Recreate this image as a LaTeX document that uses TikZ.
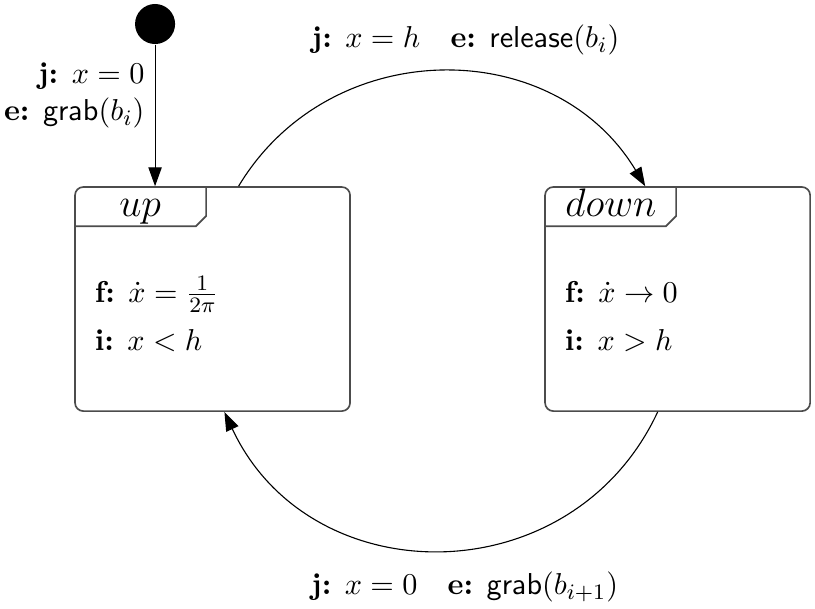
\documentclass[tikz,border=0pt,11pt]{standalone}
\usepackage{amsmath}
\usetikzlibrary{arrows.meta}

\begin{document}
\begin{tikzpicture}[>={Triangle[length=2.4mm,width=1.7mm]},
  state/.style={draw=black!70,semithick,rounded corners=3pt,minimum height=2.854cm},
  tab/.style={draw=black!70,semithick}]
\useasboundingbox (0,0) rectangle (10.38,7.745);
\node[circle,fill,minimum size=0.51cm,inner sep=0] (init) at (1.975,7.439) {};
\node[state,minimum width=3.503cm] (up) at (2.707,3.936) {};
\node[state,minimum width=3.376cm] (down) at (8.630,3.936) {};
\draw[tab] ([xshift=1.68cm]up.north west) -- ++(0,-0.38) -- ++(-0.13,-0.13) -- ++(-1.55,0);
\draw[tab] ([xshift=1.68cm]down.north west) -- ++(0,-0.38) -- ++(-0.13,-0.13) -- ++(-1.55,0);
\node[anchor=base] (upname) at ([shift={(0.84,-0.38)}]up.north west) {\Large$up$};
\node[anchor=base] (downname) at ([shift={(0.85,-0.38)}]down.north west) {\Large$down$};
\node[anchor=base west,inner sep=0] (upflow) at ([shift={(0.255,-0.04)}]up.west) {\textbf{f:} $\dot{x}=\frac{1}{2\pi}$};
\node[anchor=base west,inner sep=0] (upinv) at ([shift={(0.255,-0.66)}]up.west) {\textbf{i:} $x<h$};
\node[anchor=base west,inner sep=0] (downflow) at ([shift={(0.255,-0.04)}]down.west) {\textbf{f:} $\dot{x}\rightarrow 0$};
\node[anchor=base west,inner sep=0] (downinv) at ([shift={(0.255,-0.66)}]down.west) {\textbf{i:} $x>h$};
%\draw (init) -- (up);
\draw[->] (init) -- node[pos=0.36,left,align=right] (initjump) {\textbf{j:} $x=0$\\\textbf{e:} $\mathsf{grab}(b_i)$} (init |- up.north);
\draw[->] (up.77) to[bend left=59,looseness=1.12] node[midway,above=0.08cm,xshift=0.3cm] (upjump) {\textbf{j:} $x=h$\quad\textbf{e:} $\mathsf{release}(b_i)$} (down.106);
\draw[->] (down.260) to[bend left=65,looseness=1.2] node[midway,below=0.15cm,xshift=0.3cm] (downjump) {\textbf{j:} $x=0$\quad\textbf{e:} $\mathsf{grab}(b_{i+1})$} (up.276);
\end{tikzpicture}
\end{document}
